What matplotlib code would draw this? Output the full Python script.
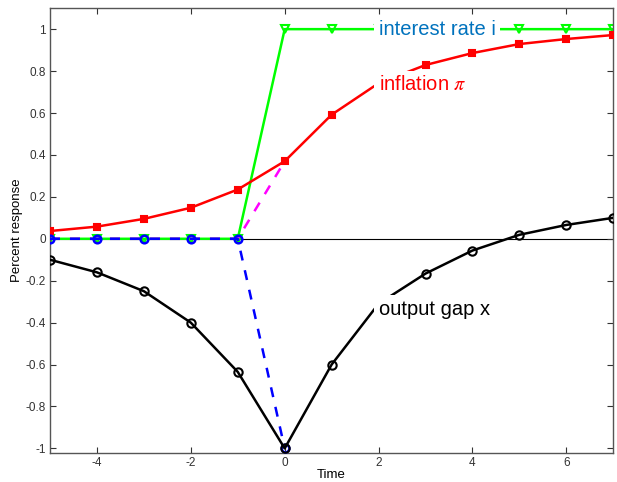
import numpy as np
import matplotlib
matplotlib.use('Agg')
import matplotlib.pyplot as plt

plt.rcParams['font.family'] = ['Liberation Sans', 'DejaVu Sans']
plt.rcParams['axes.unicode_minus'] = False
plt.rcParams['mathtext.fontset'] = 'stix'

# impulse responses, horizon -5..7
t = [-5, -4, -3, -2, -1, 0, 1, 2, 3, 4, 5, 6, 7]
interest = [0, 0, 0, 0, 0, 1, 1, 1, 1, 1, 1, 1, 1]
inflation = [0.037, 0.058, 0.095, 0.148, 0.235, 0.37, 0.592, 0.742, 0.829, 0.886, 0.929, 0.953, 0.972]
output_gap = [-0.1, -0.16, -0.25, -0.40, -0.635, -1.0, -0.60, -0.31, -0.166, -0.056, 0.019, 0.066, 0.1]

# anticipated paths up to the shock
t_pre = [-5, -4, -3, -2, -1, 0]
infl_pre = [0, 0, 0, 0, 0, 0.37]
gap_pre = [0, 0, 0, 0, 0, -1.0]

fig = plt.figure(figsize=(6.17, 4.82), dpi=100)
ax = fig.add_axes([0.081, 0.061, 0.913, 0.922])

ax.axhline(0, color='k', lw=0.8, zorder=1)

ax.plot(t, interest, color='#00ff00', lw=1.8, marker='v', ms=6, mfc='none', mew=1.5, zorder=2)
ax.plot(t, inflation, color='#ff0000', lw=1.8, marker='s', ms=5, mfc='#ff0000', mew=1.5, zorder=3)
ax.plot(t_pre, infl_pre, color='#ff00ff', lw=1.8, ls='--', dashes=(4, 4), zorder=2)
ax.plot(t_pre, gap_pre, color='#0000ff', lw=1.8, ls='--', dashes=(4, 4),
        marker='o', ms=5.5, mfc='none', mew=1.8, zorder=4)
ax.plot(t, output_gap, color='k', lw=1.8, marker='o', ms=6, mfc='none', mew=1.5, zorder=5)

bbox = dict(facecolor='white', edgecolor='none', pad=3)
ax.text(2, 1.0, 'interest rate i', color='#0072bd', fontsize=14.5, va='center', ha='left', bbox=bbox, zorder=6)
ax.text(2, 0.735, r'inflation $\pi$', color='#ff0000', fontsize=14.5, va='center', ha='left', bbox=bbox, zorder=6)
ax.text(2, -0.335, 'output gap x', color='k', fontsize=14.5, va='center', ha='left', bbox=bbox, zorder=6)

ax.set_xlim(-5, 7)
ax.set_ylim(-1.02, 1.1)
ax.set_xticks([-4, -2, 0, 2, 4, 6])
ax.set_yticks(np.arange(-1, 1.01, 0.2))
ax.set_yticklabels(['-1', '-0.8', '-0.6', '-0.4', '-0.2', '0', '0.2', '0.4', '0.6', '0.8', '1'])
ax.tick_params(direction='in', top=True, right=True, labelsize=8.5, colors='#333333', length=4, pad=3)
for s in ax.spines.values():
    s.set_color('#555555')
    s.set_linewidth(1.0)
ax.set_xlabel('Time', fontsize=9.5, labelpad=0)
ax.set_ylabel('Percent response', fontsize=9.5, labelpad=2)

fig.savefig('out.png', dpi=100)
